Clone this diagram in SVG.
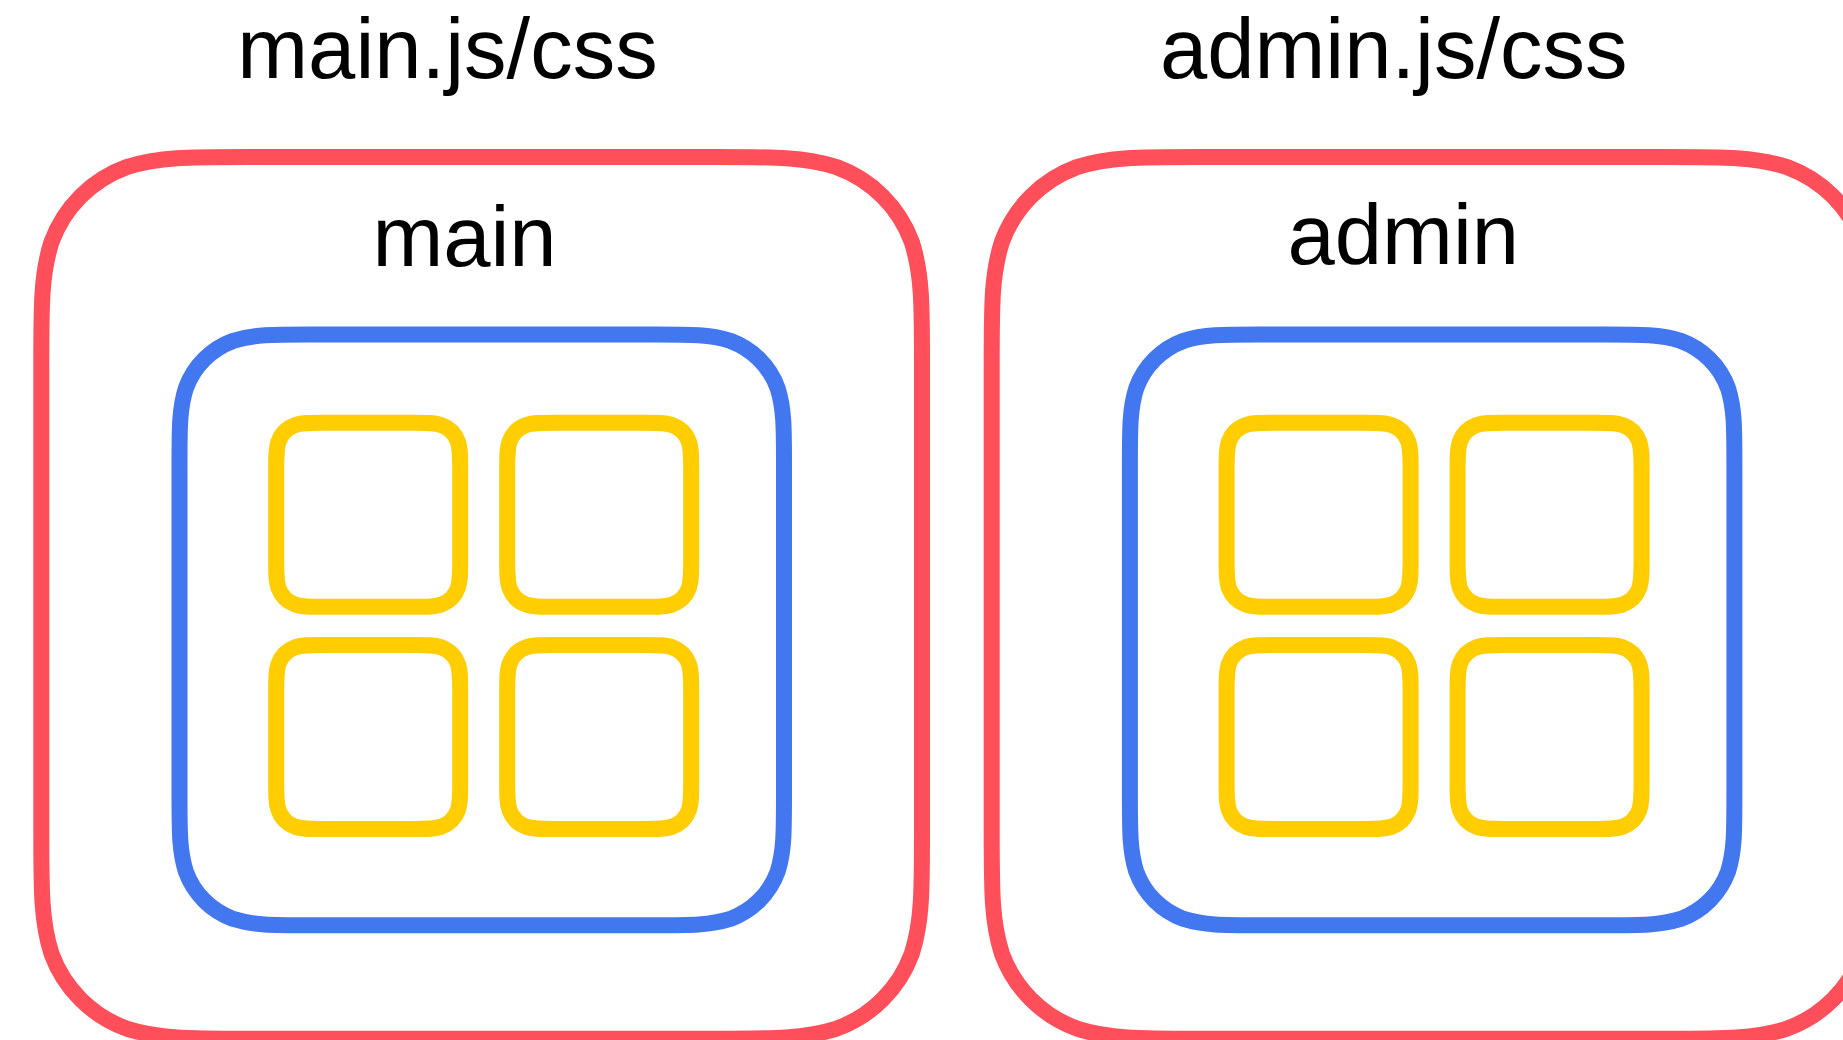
<svg xmlns="http://www.w3.org/2000/svg" xmlns:xlink="http://www.w3.org/1999/xlink" width="1843" height="1040" viewBox="0 0 1843 1040">
<style>
.bg{fill:#ffffff}
.frame{fill:none;stroke-width:16;stroke-linejoin:round}
.red{stroke:#FF4F5A}
.blue{stroke:#4377F0}
.yellow{stroke:#FFCD00}
.lbl{font-family:"Liberation Sans",Arial,Helvetica,sans-serif;font-size:85px;fill:#000000;text-anchor:middle}
</style>
<defs>
<path id="redShape" d="M206.37 0 H674.33 C733.75 0 763.46 0 795.45 10.11 C830.37 22.82 857.88 50.33 870.59 85.25 C880.7 117.24 880.7 146.95 880.7 206.37 V675.33 C880.7 734.75 880.7 764.46 870.59 796.45 C857.88 831.37 830.37 858.88 795.45 871.59 C763.46 881.7 733.75 881.7 674.33 881.7 H206.37 C146.95 881.7 117.24 881.7 85.25 871.59 C50.33 858.88 22.82 831.37 10.11 796.45 C0 764.46 0 734.75 0 675.33 V206.37 C0 146.95 0 117.24 10.11 85.25 C22.82 50.33 50.33 22.82 85.25 10.11 C117.24 0 146.95 0 206.37 0 Z"/>
<path id="blueShape" d="M129.94 0 H474.56 C511.98 0 530.69 0 550.82 6.37 C572.81 14.37 590.13 31.69 598.13 53.68 C604.5 73.81 604.5 92.52 604.5 129.94 V460.86 C604.5 498.28 604.5 516.99 598.13 537.12 C590.13 559.11 572.81 576.43 550.82 584.43 C530.69 590.8 511.98 590.8 474.56 590.8 H129.94 C92.52 590.8 73.81 590.8 53.68 584.43 C31.69 576.43 14.37 559.11 6.37 537.12 C0 516.99 0 498.28 0 460.86 V129.94 C0 92.52 0 73.81 6.37 53.68 C14.37 31.69 31.69 14.37 53.68 6.37 C73.81 0 92.52 0 129.94 0 Z"/>
<path id="tileShape" d="M45.86 0 H138.14 C151.35 0 157.95 0 165.06 2.25 C172.82 5.07 178.93 11.18 181.75 18.94 C184 26.05 184 32.65 184 45.86 V138.14 C184 151.35 184 157.95 181.75 165.06 C178.93 172.82 172.82 178.93 165.06 181.75 C157.95 184 151.35 184 138.14 184 H45.86 C32.65 184 26.05 184 18.94 181.75 C11.18 178.93 5.07 172.82 2.25 165.06 C0 157.95 0 151.35 0 138.14 V45.86 C0 32.65 0 26.05 2.25 18.94 C5.07 11.18 11.18 5.07 18.94 2.25 C26.05 0 32.65 0 45.86 0 Z"/>
</defs>
<rect class="bg" x="0" y="0" width="1843" height="1040"/>

<g id="main-bundle">
<text class="lbl" x="447.5" y="78.3">main.js/css</text>
<use class="frame red" xlink:href="#redShape" href="#redShape" x="41.3" y="157"/>
</g>
<g id="main-entry">
<use class="frame blue" xlink:href="#blueShape" href="#blueShape" x="179.5" y="334.5"/>
<text class="lbl" x="464.5" y="266">main</text>
</g>
<g id="main-module-1"><use class="frame yellow" xlink:href="#tileShape" href="#tileShape" x="276.2" y="422.8"/></g>
<g id="main-module-2"><use class="frame yellow" xlink:href="#tileShape" href="#tileShape" x="507.2" y="422.8"/></g>
<g id="main-module-3"><use class="frame yellow" xlink:href="#tileShape" href="#tileShape" x="276.2" y="645"/></g>
<g id="main-module-4"><use class="frame yellow" xlink:href="#tileShape" href="#tileShape" x="507.2" y="645"/></g>

<g id="admin-bundle">
<text class="lbl" x="1393.8" y="78.3">admin.js/css</text>
<use class="frame red" xlink:href="#redShape" href="#redShape" x="991.7" y="157"/>
</g>
<g id="admin-entry">
<use class="frame blue" xlink:href="#blueShape" href="#blueShape" x="1129.9" y="334.5"/>
<text class="lbl" x="1403.3" y="264">admin</text>
</g>
<g id="admin-module-1"><use class="frame yellow" xlink:href="#tileShape" href="#tileShape" x="1226.6" y="422.8"/></g>
<g id="admin-module-2"><use class="frame yellow" xlink:href="#tileShape" href="#tileShape" x="1457.6" y="422.8"/></g>
<g id="admin-module-3"><use class="frame yellow" xlink:href="#tileShape" href="#tileShape" x="1226.6" y="645"/></g>
<g id="admin-module-4"><use class="frame yellow" xlink:href="#tileShape" href="#tileShape" x="1457.6" y="645"/></g>

<g id="connectors"></g>
</svg>
